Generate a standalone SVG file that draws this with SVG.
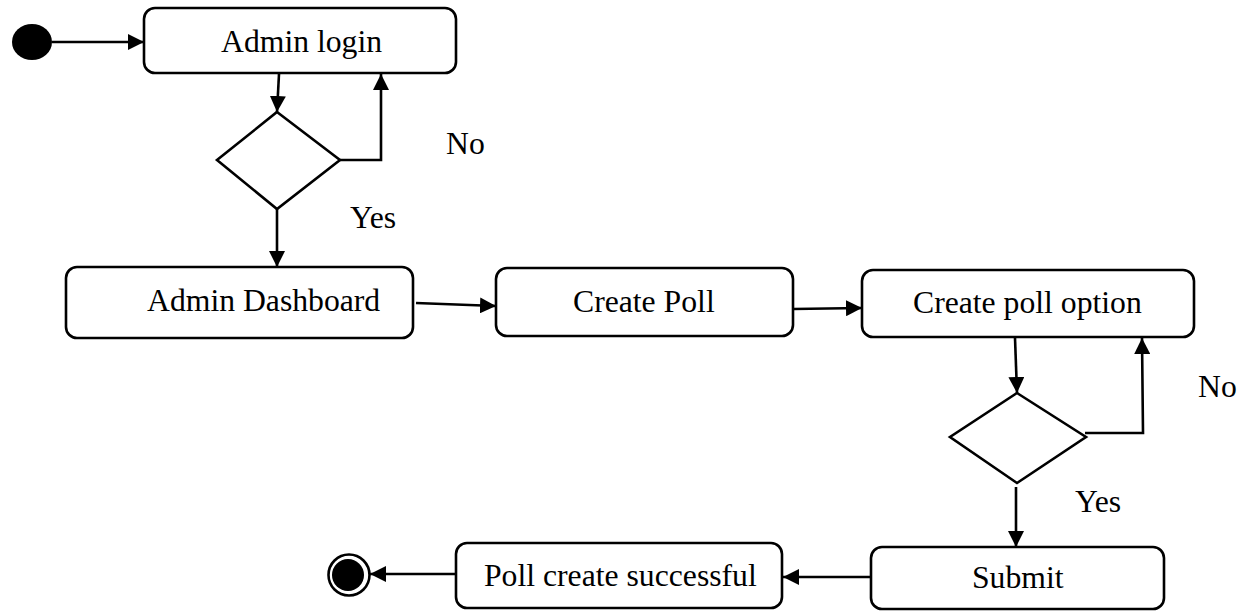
<svg xmlns="http://www.w3.org/2000/svg" width="1251" height="611" viewBox="0 0 1251 611">
  <defs>
    <marker id="arrow" viewBox="0 0 16 16" refX="16" refY="8" markerWidth="16" markerHeight="16" markerUnits="userSpaceOnUse" orient="auto">
      <path d="M0,0 L16,8 L0,16 Z" fill="#000"/>
    </marker>
    <style>
      .box { fill: #fff; stroke: #000; stroke-width: 2.6; }
      .dia { fill: #fff; stroke: #000; stroke-width: 2.6; }
      .lbl { font-family: "Liberation Serif", "Times New Roman", serif; font-size: 31.7px; fill: #000; }
      .edge { fill: none; stroke: #000; stroke-width: 2.6; }
      .arr { marker-end: url(#arrow); }
    </style>
  </defs>
  <rect width="1251" height="611" fill="#fff"/>

  <!-- connectors -->
  <g id="connectors">
    <line class="edge arr" x1="52" y1="42" x2="144" y2="42"/>
    <line class="edge arr" x1="279" y1="74" x2="277" y2="112"/>
    <polyline class="edge arr" points="340,160 381,160 381,74"/>
    <line class="edge arr" x1="277" y1="209" x2="277" y2="267"/>
    <line class="edge arr" x1="416" y1="303" x2="496" y2="306"/>
    <line class="edge arr" x1="793" y1="309" x2="862" y2="308"/>
    <line class="edge arr" x1="1015" y1="338" x2="1017" y2="393"/>
    <polyline class="edge arr" points="1085,433 1143,433 1142,338"/>
    <line class="edge arr" x1="1016" y1="487" x2="1016" y2="547"/>
    <line class="edge arr" x1="871" y1="577" x2="783" y2="577"/>
    <line class="edge arr" x1="455" y1="574" x2="370" y2="574"/>
  </g>

  <!-- start -->
  <g id="start">
    <ellipse cx="32" cy="42" rx="20" ry="18" fill="#000"/>
  </g>

  <g id="admin-login">
    <rect class="box" x="144" y="8" width="312" height="65" rx="11"/>
    <text class="lbl" x="221" y="52">Admin login</text>
  </g>

  <g id="login-check">
    <polygon class="dia" points="277,112 340,160 277,209 217,160"/>
  </g>
  <text class="lbl" x="446" y="154">No</text>
  <text class="lbl" x="350" y="228">Yes</text>

  <g id="admin-dashboard">
    <rect class="box" x="66" y="267" width="347" height="71" rx="11"/>
    <text class="lbl" x="147" y="311">Admin Dashboard</text>
  </g>

  <g id="create-poll">
    <rect class="box" x="496" y="268" width="297" height="68" rx="11"/>
    <text class="lbl" x="573" y="312">Create Poll</text>
  </g>

  <g id="create-poll-option">
    <rect class="box" x="862" y="270" width="332" height="67" rx="11"/>
    <text class="lbl" x="913" y="313">Create poll option</text>
  </g>

  <g id="option-check">
    <polygon class="dia" points="1017,393 1086,437 1017,483 950,437"/>
  </g>
  <text class="lbl" x="1198" y="397">No</text>
  <text class="lbl" x="1075" y="512">Yes</text>

  <g id="submit">
    <rect class="box" x="871" y="547" width="293" height="62" rx="11"/>
    <text class="lbl" x="972" y="588">Submit</text>
  </g>

  <g id="poll-created">
    <rect class="box" x="456" y="543" width="326" height="65" rx="11"/>
    <text class="lbl" x="484" y="586">Poll create successful</text>
  </g>

  <!-- end -->
  <g id="end">
    <circle cx="349" cy="575" r="20.5" fill="#fff" stroke="#000" stroke-width="2.6"/>
    <circle cx="348" cy="575" r="16" fill="#000"/>
  </g>
</svg>
